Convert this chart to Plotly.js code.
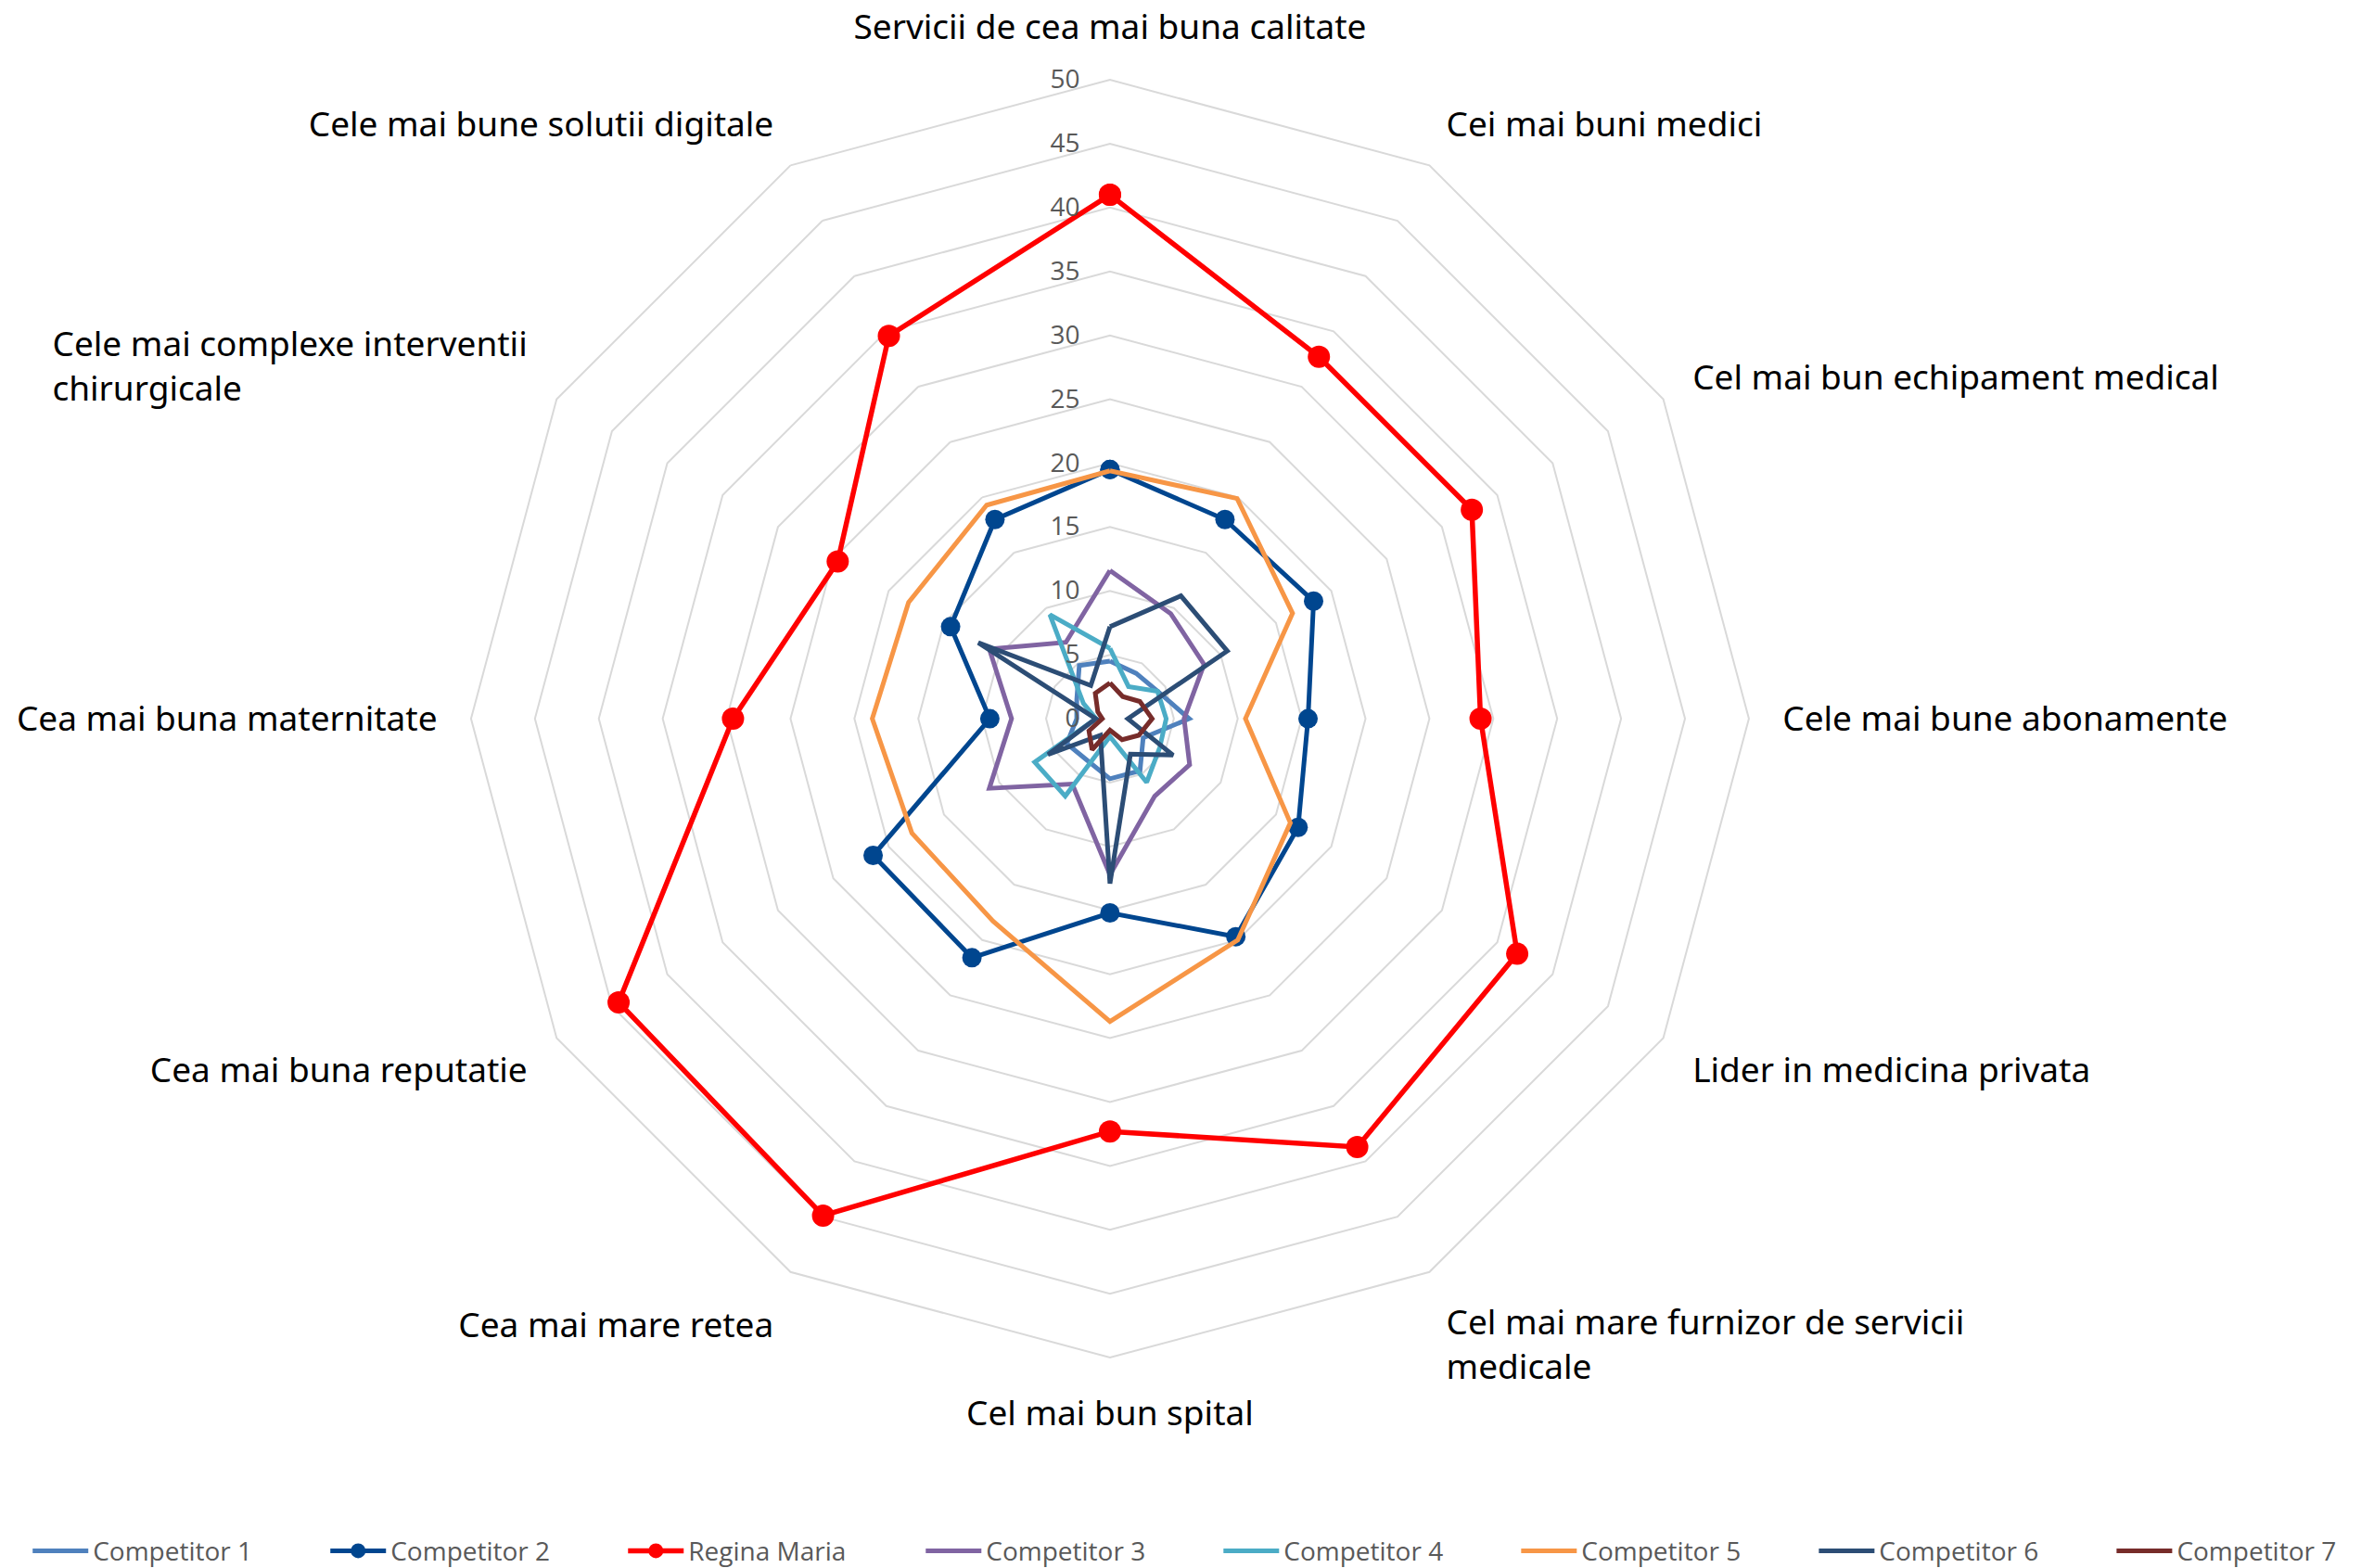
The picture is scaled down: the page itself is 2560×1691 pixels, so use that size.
<!DOCTYPE html>
<html>
<head>
<meta charset="utf-8">
<script src="https://cdn.plot.ly/plotly-3.0.1.min.js"></script>
<style>
  html, body { margin: 0; padding: 0; background: #ffffff; }
  #chart { width: 2560px; height: 1691px; }
</style>
</head>
<body>
<div id="chart"></div>
<script>
// Categories (clockwise from the top)
const categories = [
  "Servicii de cea mai buna calitate",
  "Cei mai buni medici",
  "Cel mai bun echipament medical",
  "Cele mai bune abonamente",
  "Lider in medicina privata",
  "Cel mai mare furnizor de servicii medicale",
  "Cel mai bun spital",
  "Cea mai mare retea",
  "Cea mai buna reputatie",
  "Cea mai buna maternitate",
  "Cele mai complexe interventii chirurgicale",
  "Cele mai bune solutii digitale"
];

// Displayed category labels (wrapped like the original)
const NB = "\u00A0";
const categoryLabels = [
  "Servicii de cea mai buna calitate",
  "Cei mai buni medici",
  "Cel mai bun echipament medical",
  "Cele mai bune abonamente",
  "Lider in medicina privata",
  "Cel mai mare furnizor de servicii<br>medicale",
  "Cel mai bun spital",
  "Cea mai mare retea",
  "Cea mai buna reputatie",
  "Cea mai buna maternitate",
  "Cele mai complexe interventii<br>chirurgicale" + NB.repeat(32),
  "Cele mai bune solutii digitale"
];

// Series values (same order as categories)
const competitor1 = [4.5, 4.1, 4.3, 6.2, 3.0, 4.7, 4.7, 3.7, 3.9, 2.6, 3.0, 4.8];
const competitor2 = [19.5, 18.0, 18.4, 15.5, 17.0, 19.7, 15.2, 21.6, 21.4, 9.4, 14.4, 18.0];
const reginaMaria = [41.0, 32.7, 32.7, 29.0, 36.8, 38.7, 32.3, 44.9, 44.4, 29.5, 24.6, 34.6];
const competitor3 = [11.6, 9.5, 8.5, 5.8, 7.2, 7.0, 12.2, 5.9, 10.9, 7.7, 10.9, 6.9];
const competitor4 = [5.5, 2.9, 4.3, 4.4, 4.5, 5.75, 1.4, 7.0, 6.8, 1.1, 2.4, 9.4];
const competitor5 = [19.4, 19.9, 16.5, 10.6, 16.3, 20.0, 23.7, 18.3, 17.9, 18.6, 18.2, 19.3];
const competitor6 = [7.2, 11.1, 10.6, 1.4, 5.7, 3.2, 12.9, 1.5, 5.6, 1.1, 11.9, 3.0];
const competitor7 = [2.8, 2.0, 2.7, 3.3, 2.6, 1.9, 0.9, 2.8, 1.9, 0.6, 1.1, 2.3];

// Radial tick values
const radialTicks = [0, 5, 10, 15, 20, 25, 30, 35, 40, 45, 50];

const seriesNames = ["Competitor 1", "Competitor 2", "Regina Maria", "Competitor 3",
                     "Competitor 4", "Competitor 5", "Competitor 6", "Competitor 7"];
const seriesValues = [competitor1, competitor2, reginaMaria, competitor3,
                      competitor4, competitor5, competitor6, competitor7];
const seriesColors = ["#4F81BD", "#00468F", "#FF0000", "#8064A2",
                      "#4BACC6", "#F79646", "#2C4D75", "#772C2A"];
const seriesMarkers = [false, true, true, false, false, false, false, false];
const markerSizes = [6, 21, 24, 6, 6, 6, 6, 6];
const lineWidths = [5, 5, 5.5, 5, 5, 5, 5, 5];

const closed = arr => arr.concat([arr[0]]);
const legendId = i => (i === 0 ? "legend" : "legend" + (i + 1));

const traces = seriesNames.map((name, i) => ({
  type: "scatterpolar",
  name: name,
  legend: legendId(i),
  r: closed(seriesValues[i]),
  theta: closed(categories),
  mode: seriesMarkers[i] ? "lines+markers" : "lines",
  line: { color: seriesColors[i], width: lineWidths[i] },
  marker: { color: seriesColors[i], size: markerSizes[i], symbol: "circle" },
  cliponaxis: false
}));

const layout = {
  width: 2560,
  height: 1691,
  paper_bgcolor: "#ffffff",
  plot_bgcolor: "#ffffff",
  margin: { l: 0, r: 0, t: 0, b: 0, autoexpand: false },
  showlegend: true,
  polar: {
    domain: { x: [0.1984, 0.7367], y: [0.1342, 0.9491] },
    bgcolor: "#ffffff",
    gridshape: "linear",
    radialaxis: {
      range: [0, 50],
      tickvals: radialTicks,
      ticktext: radialTicks.map(String),
      angle: 90,
      tickangle: 90,
      side: "counterclockwise",
      showline: false,
      ticks: "outside",
      ticklen: 22,
      tickcolor: "rgba(0,0,0,0)",
      showgrid: true,
      gridcolor: "#D9D9D9",
      gridwidth: 2,
      tickfont: { family: "Open Sans, sans-serif", size: 28, color: "#595959" }
    },
    angularaxis: {
      type: "category",
      categoryarray: categories,
      tickmode: "array",
      tickvals: categories,
      ticktext: categoryLabels,
      rotation: 90,
      direction: "clockwise",
      showgrid: false,
      showline: true,
      linecolor: "#D9D9D9",
      linewidth: 2,
      ticks: "outside",
      ticklen: 28,
      tickcolor: "rgba(0,0,0,0)",
      tickfont: { family: "Noto Sans, sans-serif", size: 37, color: "#000000" }
    }
  }
};

// One legend box per series, evenly spaced along the bottom edge
const legendStart = 0.0118;
const legendStep = 0.1254;
seriesNames.forEach((name, i) => {
  layout[legendId(i)] = {
    orientation: "h",
    x: legendStart + i * legendStep,
    xanchor: "left",
    y: -0.004,
    yanchor: "bottom",
    font: { family: "Open Sans, sans-serif", size: 28, color: "#595959" },
    itemwidth: 60,
    bgcolor: "rgba(0,0,0,0)"
  };
});

Plotly.newPlot("chart", traces, layout, { displayModeBar: false, staticPlot: true });
</script>
</body>
</html>
